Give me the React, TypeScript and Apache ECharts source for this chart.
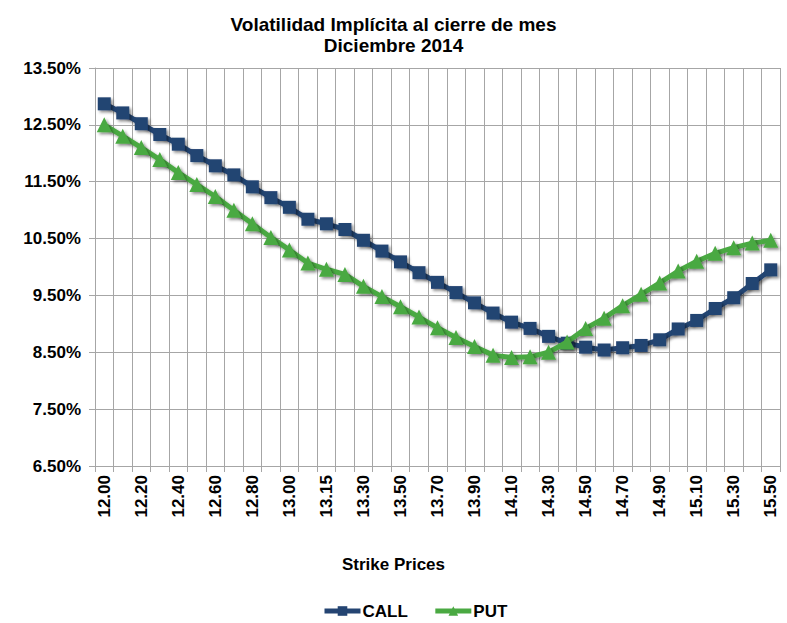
import React, { useEffect, useRef } from "react";
import * as echarts from "echarts";

const titleLines = ["Volatilidad Implícita al cierre de mes", "Diciembre 2014"];
const xAxisTitle = "Strike Prices";

const strikes = [
  "12.00", "12.10", "12.20", "12.30", "12.40", "12.50", "12.60", "12.70", "12.80", "12.90",
  "13.00", "13.10", "13.15", "13.20", "13.30", "13.40", "13.50", "13.60", "13.70", "13.80",
  "13.90", "14.00", "14.10", "14.20", "14.30", "14.40", "14.50", "14.60", "14.70", "14.80",
  "14.90", "15.00", "15.10", "15.20", "15.30", "15.40", "15.50",
];

const callVol = [
  12.87, 12.71, 12.52, 12.33, 12.16, 11.96, 11.78, 11.62, 11.41, 11.22,
  11.05, 10.84, 10.76, 10.66, 10.47, 10.28, 10.09, 9.9, 9.73, 9.55,
  9.37, 9.19, 9.03, 8.92, 8.78, 8.66, 8.59, 8.54, 8.58, 8.62,
  8.72, 8.91, 9.06, 9.27, 9.46, 9.71, 9.95,
];

const putVol = [
  12.5, 12.3, 12.1, 11.89, 11.66, 11.45, 11.24, 11.0, 10.76, 10.52,
  10.3, 10.07, 9.96, 9.87, 9.66, 9.48, 9.3, 9.12, 8.93, 8.76,
  8.6, 8.45, 8.41, 8.42, 8.5, 8.68, 8.92, 9.1, 9.32, 9.52,
  9.72, 9.93, 10.1, 10.24, 10.34, 10.42, 10.47,
];

const yMin = 6.5;
const yMax = 13.5;
const yStep = 1;

const CALL_COLOR = "#244472";
const PUT_COLOR = "#4aa942";
const GRID_COLOR = "#a6a6a6";
const FONT = "'Liberation Sans', Arial, sans-serif";

export default function App() {
  const ref = useRef<HTMLDivElement>(null);

  useEffect(() => {
    if (!ref.current) return;
    const chart = echarts.init(ref.current, undefined, { renderer: "svg" });
    const shadow = {
      shadowColor: "rgba(0,0,0,0.45)",
      shadowBlur: 3,
      shadowOffsetX: 2,
      shadowOffsetY: 2,
    };
    chart.setOption({
      animation: false,
      backgroundColor: "#ffffff",
      textStyle: { fontFamily: FONT },
      title: {
        text: titleLines.join("\n"),
        left: "center",
        top: 9,
        textStyle: {
          fontFamily: FONT,
          fontSize: 19,
          fontWeight: "bold",
          color: "#000",
          lineHeight: 21,
        },
      },
      grid: { left: 95, right: 7, top: 68, bottom: 157, containLabel: false },
      xAxis: {
        type: "category",
        data: strikes,
        boundaryGap: true,
        axisLine: { show: true, lineStyle: { color: GRID_COLOR, width: 1 } },
        axisTick: {
          show: true,
          interval: 0,
          length: 6,
          lineStyle: { color: GRID_COLOR },
        },
        splitLine: {
          show: true,
          interval: 0,
          lineStyle: { color: GRID_COLOR, width: 1 },
        },
        axisLabel: {
          interval: 1,
          rotate: 90,
          margin: 9,
          fontFamily: FONT,
          fontSize: 17,
          fontWeight: "bold",
          color: "#000",
        },
      },
      yAxis: {
        type: "value",
        min: yMin,
        max: yMax,
        interval: yStep,
        axisLine: { show: true, lineStyle: { color: GRID_COLOR, width: 1 } },
        axisTick: { show: true, length: 6, lineStyle: { color: GRID_COLOR } },
        splitLine: { show: true, lineStyle: { color: GRID_COLOR, width: 1 } },
        axisLabel: {
          margin: 14,
          fontFamily: FONT,
          fontSize: 17,
          fontWeight: "bold",
          color: "#000",
          formatter: (v: number) => v.toFixed(2) + "%",
        },
      },
      legend: {
        left: 322,
        top: 602,
        itemWidth: 36,
        itemHeight: 12,
        itemGap: 25,
        padding: 0,
        lineStyle: { width: 5 },
        textStyle: {
          fontFamily: FONT,
          fontSize: 17,
          lineHeight: 18,
          fontWeight: "bold",
          color: "#000",
          padding: [0, 0, 0, -3],
        },
        data: ["CALL", "PUT"],
      },
      graphic: [
        {
          type: "text",
          left: "center",
          top: 556,
          style: {
            text: xAxisTitle,
            fontFamily: FONT,
            fontSize: 17,
            fontWeight: "bold",
            fill: "#000",
          },
        },
      ],
      series: [
        {
          name: "CALL",
          type: "line",
          data: callVol,
          symbol: "rect",
          symbolSize: 13,
          showSymbol: true,
          showAllSymbol: true,
          color: CALL_COLOR,
          lineStyle: { color: CALL_COLOR, width: 5, ...shadow },
          itemStyle: { color: CALL_COLOR, ...shadow },
          z: 2,
        },
        {
          name: "PUT",
          type: "line",
          data: putVol,
          symbol: "triangle",
          symbolSize: 15,
          showSymbol: true,
          showAllSymbol: true,
          color: PUT_COLOR,
          lineStyle: { color: PUT_COLOR, width: 5, ...shadow },
          itemStyle: { color: PUT_COLOR, ...shadow },
          z: 3,
        },
      ],
    });
    return () => chart.dispose();
  }, []);

  return (
    <div
      ref={ref}
      style={{ position: "absolute", left: 0, top: 0, width: 787, height: 623 }}
    />
  );
}
